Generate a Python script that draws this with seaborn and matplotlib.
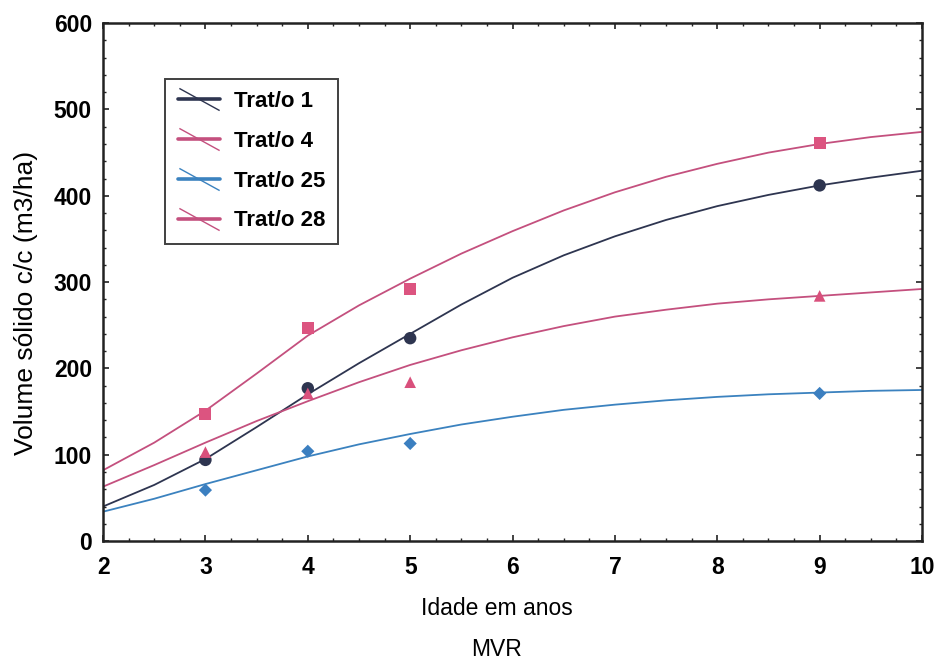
import numpy as np
import pandas as pd
import matplotlib
matplotlib.use("Agg")
import matplotlib.pyplot as plt
import seaborn as sns
from matplotlib.lines import Line2D
from matplotlib.path import Path
from matplotlib.ticker import MultipleLocator

# ---- data ----
treatments = ["Trat/o 1", "Trat/o 4", "Trat/o 25", "Trat/o 28"]
obs_age = [3, 4, 5, 9]
obs_t1 = [94, 177, 235, 412]
obs_t4 = [103, 171, 184, 284]
obs_t25 = [59, 104, 113, 171]
obs_t28 = [147, 247, 292, 461]

curve_age = [2, 2.5, 3, 3.5, 4, 4.5, 5, 5.5, 6, 6.5, 7, 7.5, 8, 8.5, 9, 9.5, 10]
curve_t1 = [40, 65, 95, 132, 170, 206, 240, 274, 305, 331, 353, 372, 388, 401, 412, 421, 429]
curve_t4 = [63, 88, 114, 139, 162, 184, 204, 221, 236, 249, 260, 268, 275, 280, 284, 288, 292]
curve_t25 = [34, 49, 66, 82, 98, 112, 124, 135, 144, 152, 158, 163, 167, 170, 172, 174, 175]
curve_t28 = [82, 114, 151, 194, 238, 273, 304, 333, 359, 383, 404, 422, 437, 450, 460, 468, 474]

x_ticks = [2, 3, 4, 5, 6, 7, 8, 9, 10]
y_ticks = [0, 100, 200, 300, 400, 500, 600]

line_colors = {"Trat/o 1": "#2e3550", "Trat/o 4": "#c4507e",
               "Trat/o 25": "#3b82bf", "Trat/o 28": "#c4507e"}
marker_colors = {"Trat/o 1": "#2e3550", "Trat/o 4": "#d9507c",
                 "Trat/o 25": "#3b7fc0", "Trat/o 28": "#dc5480"}
markers = {"Trat/o 1": "o", "Trat/o 4": "^", "Trat/o 25": "D", "Trat/o 28": "s"}
msizes = {"Trat/o 1": 80, "Trat/o 4": 70, "Trat/o 25": 45, "Trat/o 28": 75}

obs = pd.DataFrame({
    "age": obs_age * 4,
    "vol": obs_t1 + obs_t4 + obs_t25 + obs_t28,
    "trat": sum([[t] * len(obs_age) for t in treatments], []),
})
curves = pd.DataFrame({
    "age": curve_age * 4,
    "vol": curve_t1 + curve_t4 + curve_t25 + curve_t28,
    "trat": sum([[t] * len(curve_age) for t in treatments], []),
})

sns.set_style("ticks")
plt.rcParams["font.family"] = ["Liberation Sans", "DejaVu Sans"]
plt.rcParams["text.color"] = "black"
plt.rcParams["axes.labelcolor"] = "black"
plt.rcParams["xtick.color"] = "#222222"
plt.rcParams["ytick.color"] = "#222222"
plt.rcParams["xtick.labelcolor"] = "black"
plt.rcParams["ytick.labelcolor"] = "black"

fig = plt.figure(figsize=(9.37, 6.61), dpi=100)
ax = fig.add_axes([0.110, 0.1815, 0.874, 0.7835])

for t in treatments:
    sub = curves[curves["trat"] == t]
    sns.lineplot(data=sub, x="age", y="vol", ax=ax, color=line_colors[t],
                 lw=1.3, legend=False)
for t in treatments:
    sub = obs[obs["trat"] == t]
    sns.scatterplot(data=sub, x="age", y="vol", ax=ax, color=marker_colors[t],
                    marker=markers[t], s=msizes[t], edgecolor="none", legend=False, zorder=3)

ax.set_xlim(2, 10)
ax.set_ylim(0, 600)
ax.set_xticks(x_ticks)
ax.set_yticks(y_ticks)
ax.xaxis.set_minor_locator(MultipleLocator(0.25))
ax.yaxis.set_minor_locator(MultipleLocator(20))
ax.tick_params(which="both", direction="in", top=True, right=True)
ax.tick_params(which="major", length=4, width=1.2)
ax.tick_params(which="minor", length=2.5, width=1)
for lab in ax.get_xticklabels() + ax.get_yticklabels():
    lab.set_fontsize(16.5)
    lab.set_fontweight("bold")
ax.tick_params(axis="x", pad=11)
ax.tick_params(axis="y", pad=8)
for sp in ax.spines.values():
    sp.set_linewidth(1.8)
    sp.set_color("#222222")

ax.set_xlabel("")
ax.set_ylabel("Volume sólido c/c (m3/ha)", fontsize=19)
ax.yaxis.set_label_coords(-0.079, 0.46)
fig.text(0.530, 0.079, "Idade em anos", ha="center", va="center", fontsize=16.5)
fig.text(0.530, 0.018, "MVR", ha="center", va="center", fontsize=16.5)

diag = Path([(-1.0, 0.55), (1.0, -0.55)], [Path.MOVETO, Path.LINETO])
handles = [Line2D([], [], color=line_colors[t], lw=2.6, marker=diag,
                  markersize=29, markeredgewidth=1.0, markeredgecolor=line_colors[t],
                  fillstyle="none") for t in treatments]
leg = ax.legend(handles, treatments, loc="upper left", bbox_to_anchor=(0.076, 0.893),
                frameon=True, fancybox=False, handlelength=1.9, handletextpad=0.65,
                labelspacing=0.85, borderpad=0.55, borderaxespad=0,
                prop={"size": 16, "weight": "bold"})
leg.get_frame().set_edgecolor("#111111")
leg.get_frame().set_linewidth(1.4)

fig.savefig("out.png", dpi=100)
